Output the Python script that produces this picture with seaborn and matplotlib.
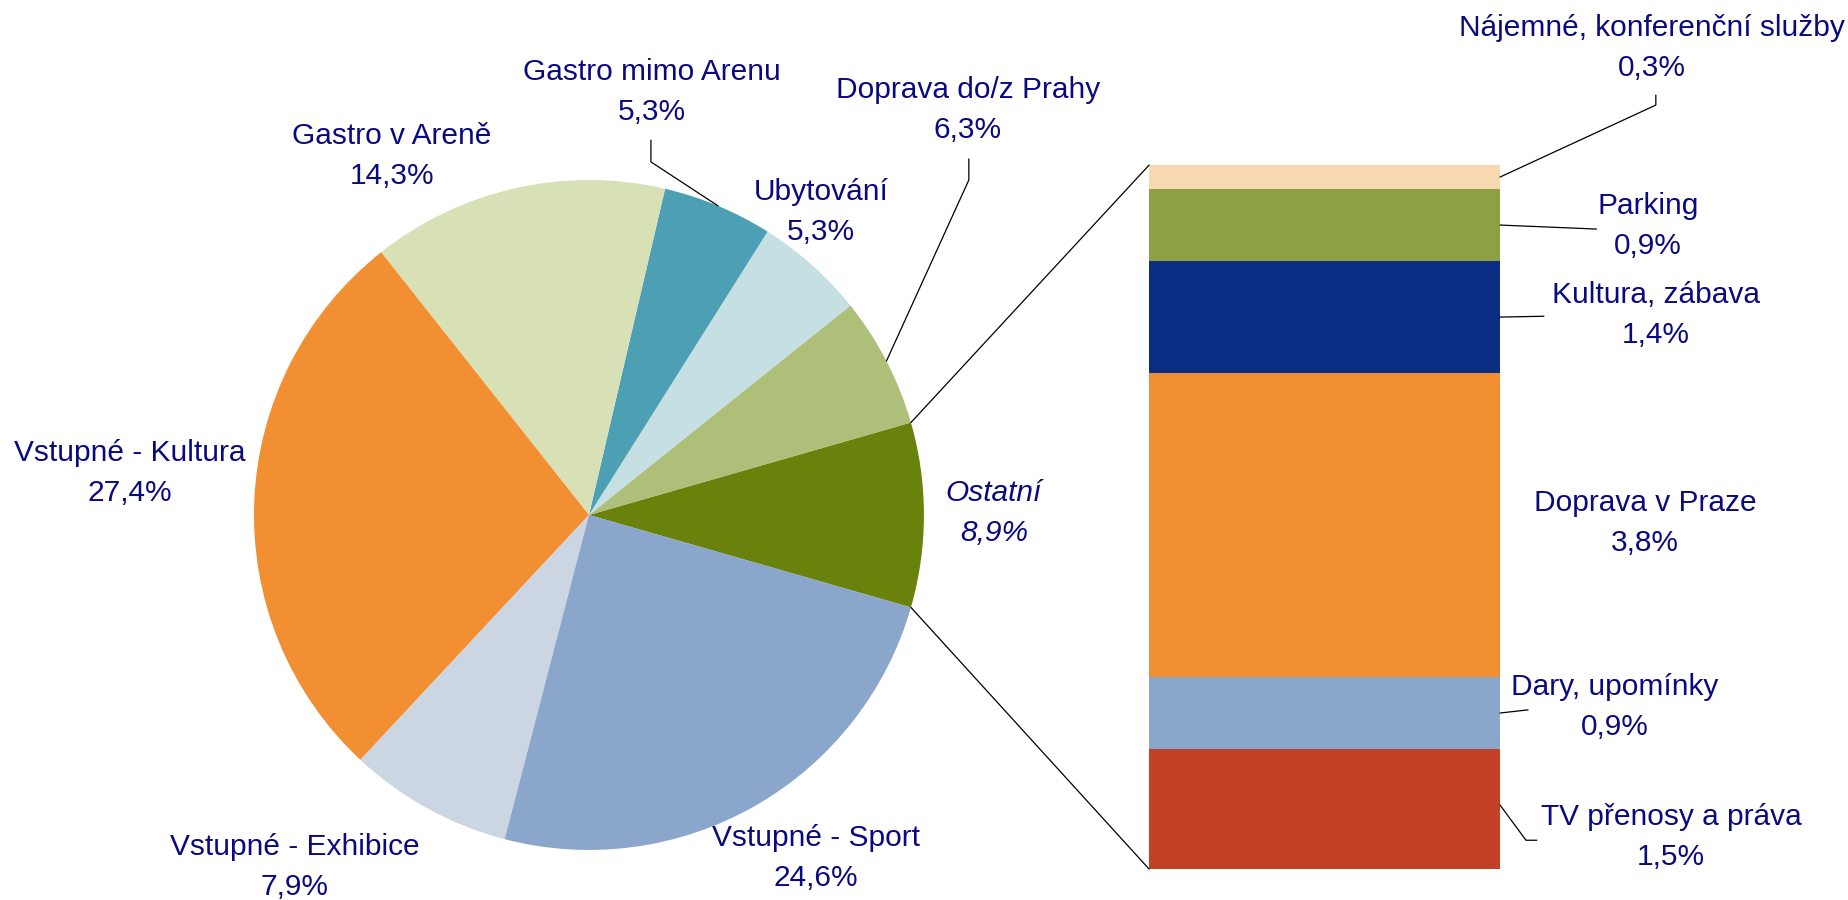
import numpy as np
import matplotlib
matplotlib.use("Agg")
import matplotlib.pyplot as plt
from matplotlib.patches import ConnectionPatch
import seaborn as sns

# pie: main revenue structure (counter-clockwise from "Ostatní")
pie_labels = ["Ostatní", "Doprava do/z Prahy", "Ubytování", "Gastro mimo Arenu",
              "Gastro v Areně", "Vstupné - Kultura", "Vstupné - Exhibice", "Vstupné - Sport"]
pie_values = [8.9, 6.3, 5.3, 5.3, 14.3, 27.4, 7.9, 24.6]
pie_colors = ["#68820C", "#ADBF78", "#C5DFE2", "#4DA0B3",
              "#D8E0B6", "#F38F33", "#CCD6E2", "#8AA6CB"]

# bar: breakdown of "Ostatní" (bottom to top)
bar_labels = ["TV přenosy a práva", "Dary, upomínky", "Doprava v Praze",
              "Kultura, zábava", "Parking", "Nájemné, konferenční služby"]
bar_values = [1.5, 0.9, 3.8, 1.4, 0.9, 0.3]
bar_colors = ["#C34127", "#8AA6CB", "#F38F33", "#0C2D84", "#8DA045", "#F8D8B0"]

sns.set_theme(style="white")
plt.rcParams["font.family"] = ["Liberation Sans", "DejaVu Sans"]
TXT = "#0A0A80"
FS = 21.5
LS = 1.55


def pct(v):
    return f"{v:.1f}%".replace(".", ",")


fig = plt.figure(figsize=(18.48, 9.0), dpi=100)

# ---- pie ----
ax = fig.add_axes([0.1374, 0.0556, 0.3626, 0.7444])
start = -pie_values[0] / 2 * 3.6
wedges, _ = ax.pie(pie_values, colors=pie_colors, startangle=start, counterclock=True,
                   radius=1.0, wedgeprops=dict(linewidth=0))
ax.set_xlim(-1, 1)
ax.set_ylim(-1, 1)
ax.set_aspect("equal")
ax.axis("off")

pie_text_pos = {
    "Ostatní": (1.209, 0.006),
    "Doprava do/z Prahy": (1.131, 1.209),
    "Ubytování": (0.693, 0.904),
    "Gastro mimo Arenu": (0.188, 1.263),
    "Gastro v Areně": (-0.588, 1.072),
    "Vstupné - Kultura": (-1.370, 0.125),
    "Vstupné - Exhibice": (-0.878, -1.051),
    "Vstupné - Sport": (0.678, -1.024),
}
for lab, val in zip(pie_labels, pie_values):
    x, y = pie_text_pos[lab]
    style = "italic" if lab == "Ostatní" else "normal"
    ax.text(x, y, f"{lab}\n{pct(val)}", ha="center", va="center", fontsize=FS,
            color=TXT, style=style, linespacing=LS, clip_on=False)


def mid_edge(i):
    w = wedges[i]
    a = np.deg2rad((w.theta1 + w.theta2) / 2)
    return np.cos(a), np.sin(a)


# leader lines
ex, ey = mid_edge(pie_labels.index("Gastro mimo Arenu"))
ax.plot([ex, 0.185, 0.185], [ey, 1.054, 1.119], color="black", lw=0.9, clip_on=False)
ex, ey = mid_edge(pie_labels.index("Doprava do/z Prahy"))
ax.plot([ex, 1.134, 1.134], [ey, 1.0, 1.063], color="black", lw=0.9, clip_on=False)

# ---- stacked bar ----
bx = fig.add_axes([0.6218, 0.0344, 0.1899, 0.7822])
bottoms = np.concatenate([[0], np.cumsum(bar_values)[:-1]])
for v, b, c in zip(bar_values, bottoms, bar_colors):
    sns.barplot(x=[0], y=[v], bottom=b, color=c, width=1.0, ax=bx,
                saturation=1, linewidth=0)
bx.set_xlim(-0.5, 0.5)
bx.set_ylim(0, sum(bar_values))
bx.axis("off")

bar_text_pos = {
    "TV přenosy a práva": (0.987, 0.40),
    "Dary, upomínky": (0.828, 2.025),
    "Doprava v Praze": (0.913, 4.325),
    "Kultura, zábava": (0.944, 6.925),
    "Parking": (0.921, 8.04),
    "Nájemné, konferenční služby": (0.933, 10.26),
}
for lab, val in zip(bar_labels, bar_values):
    x, y = bar_text_pos[lab]
    bx.text(x, y, f"{lab}\n{pct(val)}", ha="center", va="center", fontsize=FS,
            color=TXT, linespacing=LS, clip_on=False)

mids = bottoms + np.array(bar_values) / 2
lk = dict(color="black", lw=0.9, clip_on=False)
bx.plot([0.5, 0.944, 0.944], [mids[5], 9.55, 9.675], **lk)
bx.plot([0.5, 0.775], [mids[4], 8.0], **lk)
bx.plot([0.5, 0.625], [mids[3], 6.91], **lk)
bx.plot([0.5, 0.580], [mids[1], 1.99], **lk)
bx.plot([0.5, 0.574, 0.605], [mids[0] + 0.05, 0.36, 0.36], **lk)

# ---- connectors pie -> bar ----
w0 = wedges[0]
for ang, ytop in [(w0.theta2, sum(bar_values)), (w0.theta1, 0)]:
    a = np.deg2rad(ang)
    con = ConnectionPatch(xyA=(np.cos(a), np.sin(a)), coordsA=ax.transData,
                          xyB=(-0.5, ytop), coordsB=bx.transData,
                          color="black", lw=0.9)
    fig.add_artist(con)

fig.savefig("out.png", dpi=100, facecolor="white")
